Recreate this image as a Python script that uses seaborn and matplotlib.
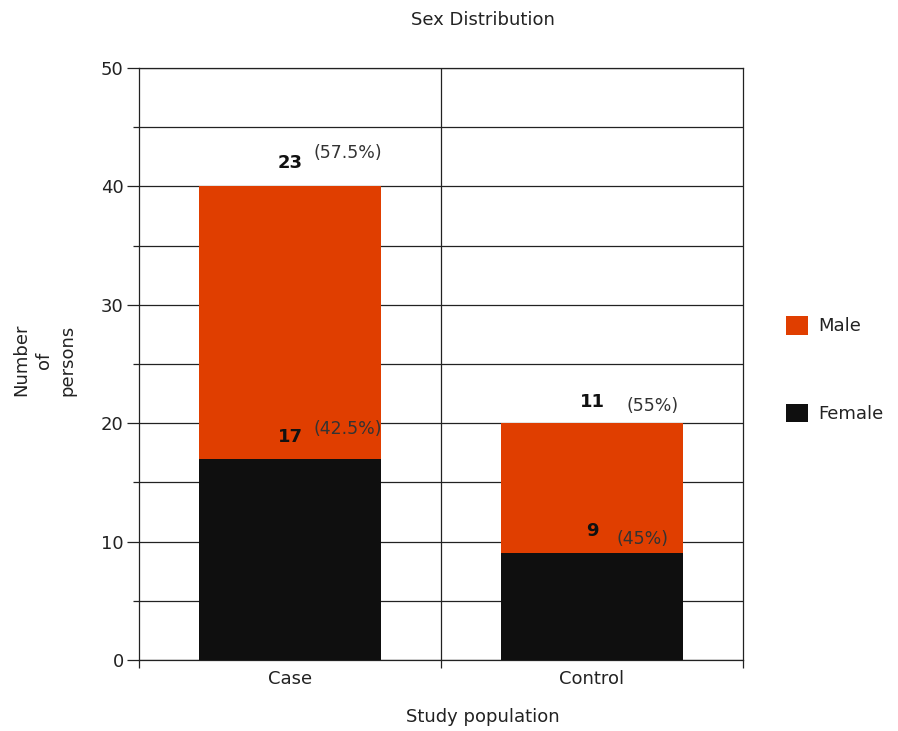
import matplotlib
matplotlib.use("Agg")
import matplotlib.pyplot as plt
import matplotlib.patches as mpatches
from matplotlib.ticker import MultipleLocator, FixedLocator
import seaborn as sns
import pandas as pd

# Study groups and counts by sex
groups = ["Case", "Control"]
male = [23, 11]
female = [17, 9]
male_pct = ["(57.5%)", "(55%)"]
female_pct = ["(42.5%)", "(45%)"]

MALE_COLOR = "#E03E00"
FEMALE_COLOR = "#0F0F0F"

sns.set_theme(style="white")
plt.rcParams["font.family"] = ["DejaVu Sans"]

df = pd.DataFrame({
    "group": groups,
    "male": male,
    "female": female,
})
df["total"] = df["male"] + df["female"]

fig = plt.figure(figsize=(8.98, 7.31), dpi=100)
ax = fig.add_axes([139 / 898, 71 / 731, 604 / 898, 592 / 731])

# Stacked bars: the full height in orange, the female share drawn over it
sns.barplot(data=df, x="group", y="total", color=MALE_COLOR, width=0.6,
            saturation=1, linewidth=0, edgecolor="none", ax=ax, zorder=3)
sns.barplot(data=df, x="group", y="female", color=FEMALE_COLOR, width=0.6,
            saturation=1, linewidth=0, edgecolor="none", ax=ax, zorder=3)

ax.set_xlim(-0.5, 1.5)
ax.set_ylim(0, 50)
ax.yaxis.set_major_locator(MultipleLocator(10))
ax.yaxis.set_minor_locator(MultipleLocator(5))
ax.xaxis.set_minor_locator(FixedLocator([-0.5, 0.5, 1.5]))

ax.grid(which="both", axis="y", color="#222222", linewidth=0.9, zorder=0)
ax.axvline(0.5, color="#222222", linewidth=0.9, zorder=0)
for side in ["left", "right", "top", "bottom"]:
    ax.spines[side].set_color("#222222")
    ax.spines[side].set_linewidth(0.9)

ax.tick_params(axis="y", which="major", length=9, width=0.9, color="#222222",
               labelsize=13, labelcolor="#222222", pad=2, left=True)
ax.tick_params(axis="y", which="minor", length=4, width=0.9, color="#222222", left=True)
ax.tick_params(axis="x", which="major", length=0, labelsize=13,
               labelcolor="#222222", pad=7)
ax.tick_params(axis="x", which="minor", length=6, width=0.9, color="#222222", bottom=True)

ax.set_xlabel("")
ax.set_ylabel("")

# Count and percentage labels above each segment
num_offsets_male = [(0, 23), (0, 21)]
pct_offsets_male = [(58, 33), (61, 17)]
num_offsets_female = [(0, 22), (0, 22)]
pct_offsets_female = [(58, 30), (51, 14)]

for i, g in enumerate(groups):
    top_m = male[i] + female[i]
    ax.annotate(str(male[i]), xy=(i, top_m), xytext=num_offsets_male[i],
                textcoords="offset pixels", ha="center", va="center",
                fontsize=13, fontweight="bold", color="#111111", zorder=5)
    ax.annotate(male_pct[i], xy=(i, top_m), xytext=pct_offsets_male[i],
                textcoords="offset pixels", ha="center", va="center",
                fontsize=12.5, color="#333333", zorder=5)
    ax.annotate(str(female[i]), xy=(i, female[i]), xytext=num_offsets_female[i],
                textcoords="offset pixels", ha="center", va="center",
                fontsize=13, fontweight="bold", color="#111111", zorder=5)
    ax.annotate(female_pct[i], xy=(i, female[i]), xytext=pct_offsets_female[i],
                textcoords="offset pixels", ha="center", va="center",
                fontsize=12.5, color="#333333", zorder=5)

fig.text(483 / 898, 1 - 20 / 731, "Sex Distribution", ha="center", va="center",
         fontsize=13, color="#222222")
fig.text(483 / 898, 1 - 717 / 731, "Study population", ha="center", va="center",
         fontsize=13, color="#222222")
fig.text(44 / 898, 1 - 360 / 731, "Number\nof\npersons", ha="center", va="center",
         rotation=90, fontsize=13, color="#222222", linespacing=1.35,
         multialignment="center")

handles = [mpatches.Patch(facecolor=MALE_COLOR, edgecolor="none", label="Male"),
           mpatches.Patch(facecolor=FEMALE_COLOR, edgecolor="none", label="Female")]
fig.legend(handles=handles, loc="upper left",
           bbox_to_anchor=(786 / 898, 1 - 316 / 731), frameon=False,
           fontsize=13, handlelength=1.2, handleheight=1.2, handletextpad=0.6,
           labelspacing=3.8, borderpad=0, borderaxespad=0, labelcolor="#222222")

fig.savefig("out.png", dpi=100, facecolor="white")
